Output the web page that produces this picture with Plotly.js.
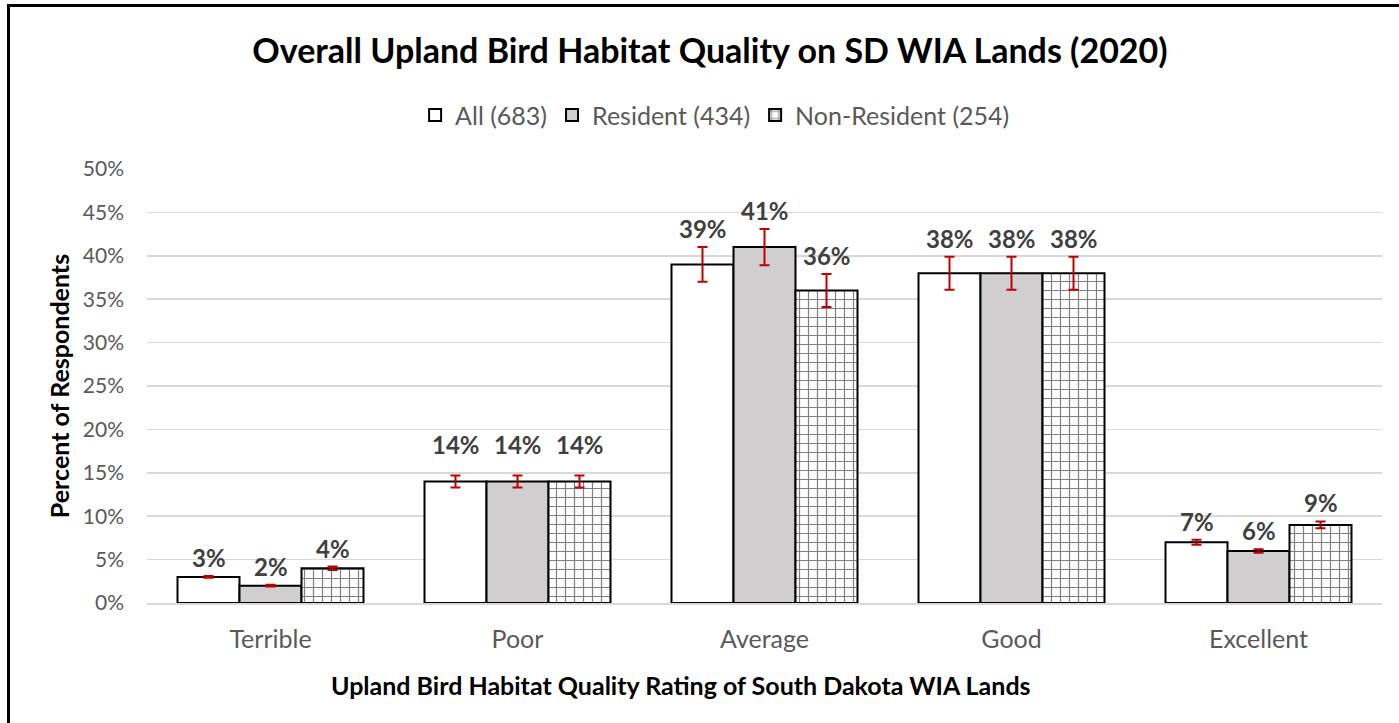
<!DOCTYPE html>
<html>
<head>
<meta charset="utf-8">
<script src="https://cdn.plot.ly/plotly-3.0.1.min.js"></script>
<style>
  html, body { margin: 0; padding: 0; background: #fff; }
  #wrap { position: relative; width: 1399px; height: 723px; overflow: hidden; }
  #chart { position: absolute; left: 0; top: 0; width: 1399px; height: 723px; }
  #frame { position: absolute; left: 7px; top: 4px; width: 1400px; height: 730px;
           border-left: 3px solid #000; border-top: 3px solid #000; pointer-events: none; }
</style>
</head>
<body>
<div id="wrap">
  <div id="chart"></div>
  <div id="frame"></div>
</div>
<script>
const categories = ["Terrible", "Poor", "Average", "Good", "Excellent"];
const seriesNames = ["All (683)", "Resident (434)", "Non-Resident (254)"];
const allValues = [3, 14, 39, 38, 7];
const allErrors = [0.1, 0.7, 2.0, 1.9, 0.3];
const residentValues = [2, 14, 41, 38, 6];
const residentErrors = [0.1, 0.7, 2.1, 1.9, 0.2];
const nonResidentValues = [4, 14, 36, 38, 9];
const nonResidentErrors = [0.2, 0.7, 1.9, 1.9, 0.4];
const yTickValues = [0, 5, 10, 15, 20, 25, 30, 35, 40, 45, 50];
const yTickLabels = ["0%", "5%", "10%", "15%", "20%", "25%", "30%", "35%", "40%", "45%", "50%"];

const FONT = "Lato, 'Open Sans', sans-serif";
const errStyle = (arr) => ({ type: "data", array: arr, visible: true, color: "#c00000", thickness: 2, width: 5 });

const traces = [
  { type: "bar", name: seriesNames[0], x: categories, y: allValues,
    error_y: errStyle(allErrors),
    marker: { color: "#ffffff", line: { color: "#000000", width: 2 } } },
  { type: "bar", name: seriesNames[1], x: categories, y: residentValues,
    error_y: errStyle(residentErrors),
    marker: { color: "#d0cece", line: { color: "#000000", width: 2 } } },
  { type: "bar", name: seriesNames[2], x: categories, y: nonResidentValues,
    error_y: errStyle(nonResidentErrors),
    marker: { color: "#ffffff", line: { color: "#000000", width: 2 },
      pattern: { shape: "+", fgcolor: "#808080", bgcolor: "#ffffff", size: 9, solidity: 0.25 } } }
];

// label placement style (pixel nudges, per category) – layout config, not data
const labelExtraLift = { Poor: 12 };
const groups = [[allValues, allErrors], [residentValues, residentErrors], [nonResidentValues, nonResidentErrors]];
const annotations = [];
const barPx = 62;
groups.forEach((g, gi) => {
  g[0].forEach((v, i) => {
    annotations.push({
      x: categories[i], y: v + g[1][i], xref: "x", yref: "y",
      xshift: (gi - 1) * barPx, yshift: 2 + (labelExtraLift[categories[i]] || 0),
      text: v + "%", showarrow: false, yanchor: "bottom", xanchor: "center",
      font: { family: FONT, size: 24, color: "#404040", weight: "bold" }
    });
  });
});
annotations.push({
  text: "<b>Upland Bird Habitat Quality Rating of South Dakota WIA Lands</b>",
  xref: "paper", yref: "paper", x: 0.4325, y: -0.189, xanchor: "center", yanchor: "middle",
  showarrow: false, font: { family: FONT, size: 25, color: "#000000" }
});

const layout = {
  width: 1399, height: 723,
  margin: { l: 146.5, r: 16.5, t: 169, b: 120 },
  paper_bgcolor: "#ffffff", plot_bgcolor: "#ffffff",
  barmode: "group", bargap: 0.247, bargroupgap: 0,
  font: { family: FONT, color: "#595959" },
  title: { text: "<b>Overall Upland Bird Habitat Quality on SD WIA Lands (2020)</b>",
    x: 0.5075, xref: "container", xanchor: "center", y: 0.93, yref: "container", yanchor: "middle",
    font: { family: FONT, size: 34, color: "#000000" } },
  showlegend: true,
  legend: { orientation: "h", x: 0.46, xanchor: "center", y: 1.124, yanchor: "middle",
    font: { family: FONT, size: 25, color: "#595959" }, traceorder: "normal", itemwidth: 30 },
  xaxis: { type: "category", showgrid: false, showline: true, linecolor: "#d9d9d9", linewidth: 1.5,
    ticks: "", ticklabelstandoff: 13, tickfont: { family: FONT, size: 25, color: "#595959" } },
  yaxis: { range: [0, 50], tickvals: yTickValues, ticktext: yTickLabels,
    showgrid: true, gridcolor: "#d9d9d9", gridwidth: 1.5, zeroline: false, showline: false,
    ticks: "", ticklen: 0, ticklabelstandoff: 22, tickfont: { family: FONT, size: 21, color: "#595959" },
    title: { text: "<b>Percent of Respondents</b>", font: { family: FONT, size: 25, color: "#000000" }, standoff: 6 } },
  annotations: annotations
};

Plotly.newPlot("chart", traces, layout, { displayModeBar: false, staticPlot: true });
</script>
</body>
</html>
